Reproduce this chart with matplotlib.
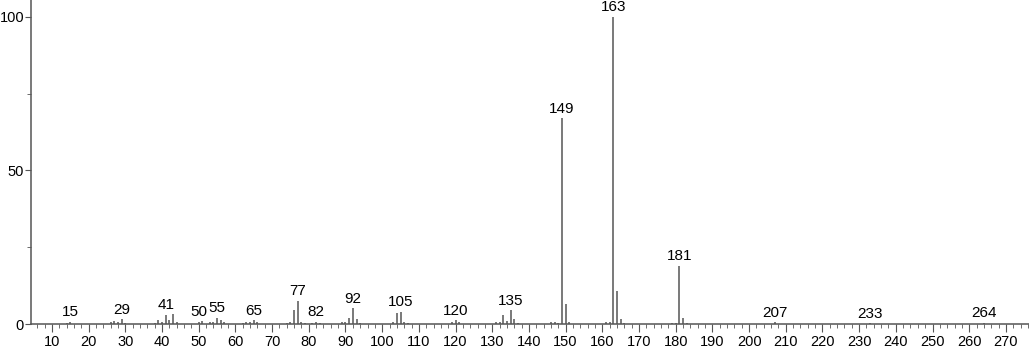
import matplotlib
matplotlib.use("Agg")
import matplotlib.pyplot as plt
from matplotlib.ticker import MultipleLocator

plt.rcParams['font.family'] = ['Liberation Sans', 'DejaVu Sans']

# m/z and relative abundance
mz = [14, 15, 26, 27, 28, 29, 30, 38, 39, 40, 41, 42, 43, 44,
      50, 51, 53, 54, 55, 56, 57, 62, 63, 64, 65, 66,
      74, 75, 76, 77, 78, 79, 81, 82, 83, 89, 90, 91, 92, 93, 94,
      103, 104, 105, 106, 107, 119, 120, 121,
      131, 132, 133, 134, 135, 136, 137, 146, 147, 148, 149, 150, 151,
      161, 162, 163, 164, 165, 166, 179, 180, 181, 182, 183,
      207, 233, 264]
inten = [0.3, 0.8, 0.5, 1.0, 0.6, 1.5, 0.3, 0.4, 1.2, 0.5, 3.0, 1.2, 3.2, 0.5,
         0.8, 1.0, 0.8, 0.6, 2.0, 1.2, 0.6, 0.4, 0.8, 0.6, 1.2, 0.5,
         0.4, 0.6, 4.5, 7.6, 0.8, 0.3, 0.4, 0.8, 0.4, 0.6, 0.6, 2.0, 5.2, 1.5, 0.4,
         0.6, 3.5, 4.0, 0.6, 0.4, 0.6, 1.2, 0.5,
         0.8, 0.6, 3.0, 1.0, 4.5, 1.5, 0.3, 0.6, 0.6, 0.4, 67.0, 6.5, 0.6,
         0.5, 0.8, 100.0, 10.6, 1.5, 0.3, 0.4, 0.4, 18.9, 2.0, 0.4,
         0.5, 0.3, 0.4]
labeled = [15, 29, 41, 50, 55, 65, 77, 82, 92, 105, 120, 135, 149, 163, 181, 207, 233, 264]

fig = plt.figure(figsize=(10.29, 3.48), dpi=100)
ax = fig.add_axes([31 / 1029, 24 / 348, 1 - 31 / 1029, 1 - 24 / 348])

col = '#555555'
ax.vlines(mz, 0, inten, colors=col, linewidth=1.1)

for m in labeled:
    h = inten[mz.index(m)]
    ax.text(m, h + 0.8, str(m), ha='center', va='bottom', fontsize=11, color='black')

ax.set_xlim(4.28, 276.3)
ax.set_ylim(0, 105.5)
ax.set_xticks(range(10, 271, 10))
ax.xaxis.set_minor_locator(MultipleLocator(2))
ax.set_yticks([0, 50, 100])
ax.yaxis.set_minor_locator(MultipleLocator(25))

for s in ['top', 'right']:
    ax.spines[s].set_visible(False)
for s in ['left', 'bottom']:
    ax.spines[s].set_color(col)
    ax.spines[s].set_linewidth(1.1)

ax.tick_params(axis='x', which='major', length=6, color=col, labelsize=10.5, pad=2)
ax.tick_params(axis='y', which='major', length=4, color=col, labelsize=10.5, pad=1)
ax.tick_params(axis='both', which='minor', length=3, color=col)

fig.savefig('out.png', dpi=100)
